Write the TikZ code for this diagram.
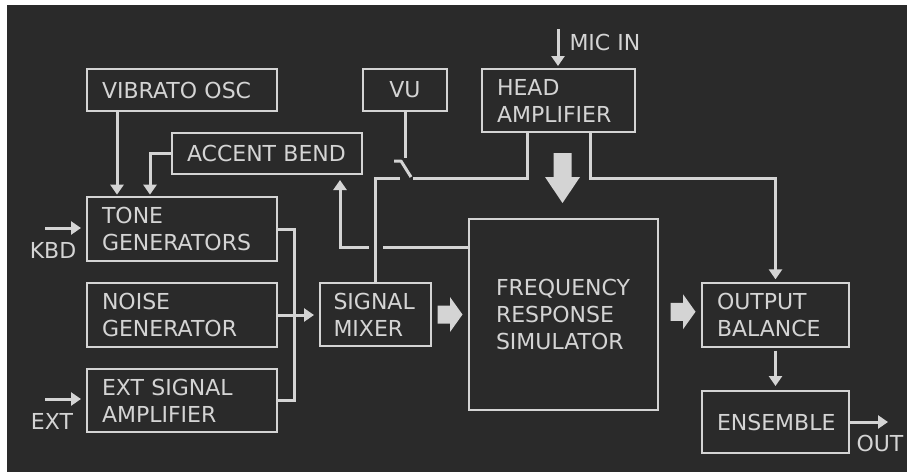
\documentclass[tikz,border=0pt]{standalone}
\usepackage{fontspec}
\setmainfont{DejaVu Sans}
\usetikzlibrary{arrows.meta,calc}

\definecolor{panel}{RGB}{42,42,42}
\definecolor{ink}{RGB}{212,212,212}

\tikzset{every picture/.style={line width=0.75pt}}
\tikzset{
  blk/.style={draw=ink, line width=1.5pt, text=ink, align=left, inner xsep=11.25pt, inner ysep=0pt,
    font=\fontsize{16.5}{20.25}\selectfont},
  wire/.style={draw=ink, line width=2.25pt},
  feed/.style={wire, -{Triangle[width=9.75pt,length=7.5pt]}},
  lbl/.style={text=ink, inner sep=0pt, font=\fontsize{16.5}{20.25}\selectfont},
  fatright/.pic={\fill[ink] (-12.5,-9) -- (0,-9) -- (0,-17.5) -- (12.5,0) -- (0,17.5) -- (0,9) -- (-12.5,9) -- cycle;},
  fatdown/.pic={\fill[ink] (-9,25) -- (9,25) -- (9,1) -- (17.5,1) -- (0,-25) -- (-17.5,1) -- (-9,1) -- cycle;}
}

\begin{document}
\begin{tikzpicture}[x=0.75pt,y=0.75pt,yscale=-1,xscale=1]
    \useasboundingbox (0,0) rectangle (907,472);
    \fill[white] (0,0) rectangle (907,472);
    \fill[panel] (7,5) rectangle (907,472);

    %Boxes
    \node[blk, text width=120pt, minimum height=31.5pt] (vib) at (182,90) {VIBRATO OSC};
    \node[blk, align=center, text width=40.5pt, minimum height=31.5pt] (vu) at (405,90) {VU};
    \node[blk, text width=120pt, minimum height=30.75pt] (acc) at (267,153.5) {ACCENT BEND};
    \node[blk, text width=120pt, minimum height=48pt] (tone) at (182,229) {TONE\\GENERATORS};
    \node[blk, text width=120pt, minimum height=48pt] (noise) at (182,315) {NOISE\\GENERATOR};
    \node[blk, text width=120pt, minimum height=47.25pt] (ext) at (182,400.5) {EXT SIGNAL\\AMPLIFIER};
    \node[blk, text width=63pt, inner xsep=10.125pt, minimum height=47.25pt] (mix) at (375.5,314.5) {SIGNAL\\MIXER};
    \node[blk, text width=92.25pt, minimum height=47.25pt] (head) at (558.5,100.5) {HEAD\\AMPLIFIER};
    \node[blk, text width=101.25pt, inner xsep=20.25pt, minimum height=143.25pt] (frs) at (563.5,314.5) {FREQUENCY\\RESPONSE\\SIMULATOR};
    \node[blk, text width=87.75pt, minimum height=48pt] (outb) at (775.5,315) {OUTPUT\\BALANCE};
    \node[blk, text width=87.75pt, minimum height=46.5pt] (ens) at (775.5,422) {ENSEMBLE};

    % Text Node
    \node[lbl] (kbdl) at (53,250) {KBD};
    % Text Node
    \node[lbl] (extl) at (52,421) {EXT};
    % Text Node
    \node[lbl, anchor=west] (micl) at (569,42) {MIC IN};
    % Text Node
    \node[lbl] (outl) at (880,443) {OUT};

    %Points
    \coordinate (vibo) at ($(vib.south west)+(31,0)$);
    \coordinate (acci) at ($(tone.north west)+(64,0)$);
    \coordinate (acco) at ($(acc.south east)+(-23,0)$);
    \coordinate (fb) at ($(frs.north west)+(0,29)$);
    \coordinate (hdl) at ($(head.south)+(-31.5,0)$);
    \coordinate (hdr) at ($(head.south)+(31.5,0)$);
    \coordinate (swl) at (400,178);
    \coordinate (swr) at (413,178);
    \coordinate (kbd) at (45,228);
    \coordinate (extin) at (45,399);
    \coordinate (mic) at (558,29);
    \coordinate (outp) at (888,421);

    %Inputs
    \draw[feed, shorten >=3.75pt] (kbd) -- (kbd -| tone.west);
    \draw[feed, shorten >=3.75pt] (extin) -- (extin -| ext.west);
    \draw[feed, shorten >=1.5pt] (mic) -- (mic |- head.north);
    \draw[feed] (ens.east) -- (ens.east -| outp);

    %Control lines
    \draw[feed, shorten >=1pt] (vibo) -- (vibo |- tone.north);
    \draw[feed, shorten >=1pt] (acc.west) -| (acci);
    \draw[feed, shorten >=3.75pt] (fb) -| (acco);

    %Audio path
    \draw[wire] (tone.east) -- ++(16,0) |- (ext.east);
    \draw[feed, shorten >=3.75pt] (noise.east) -- (noise.east -| mix.west);
    \draw[wire, preaction={draw=panel, line width=10.5pt, shorten <=2pt}] (mix.north) |- (swl);
    \draw[wire] (swr) -| (hdl);
    \draw[feed, shorten >=2pt] (hdr) |- (outb.north |- swr) -- (outb.north);
    \draw[feed, shorten <=2pt, shorten >=3pt] (outb.south) -- (ens.north);

    %VU switch
    \draw[wire] (vu.south) -- ++(0,46);
    \draw[wire, line join=round] (394,161) -- (401,161) -- (411,177);

    %Big arrows
    \pic at ($(mix.east)!0.5!(frs.west)$) {fatright};
    \pic at ($(frs.east)!0.5!(outb.west)+(3,-3)$) {fatright};
    \pic at ($(head.south)!0.5!(frs.north)+(1.5,2.5)$) {fatdown};
  \end{tikzpicture}
\end{document}
